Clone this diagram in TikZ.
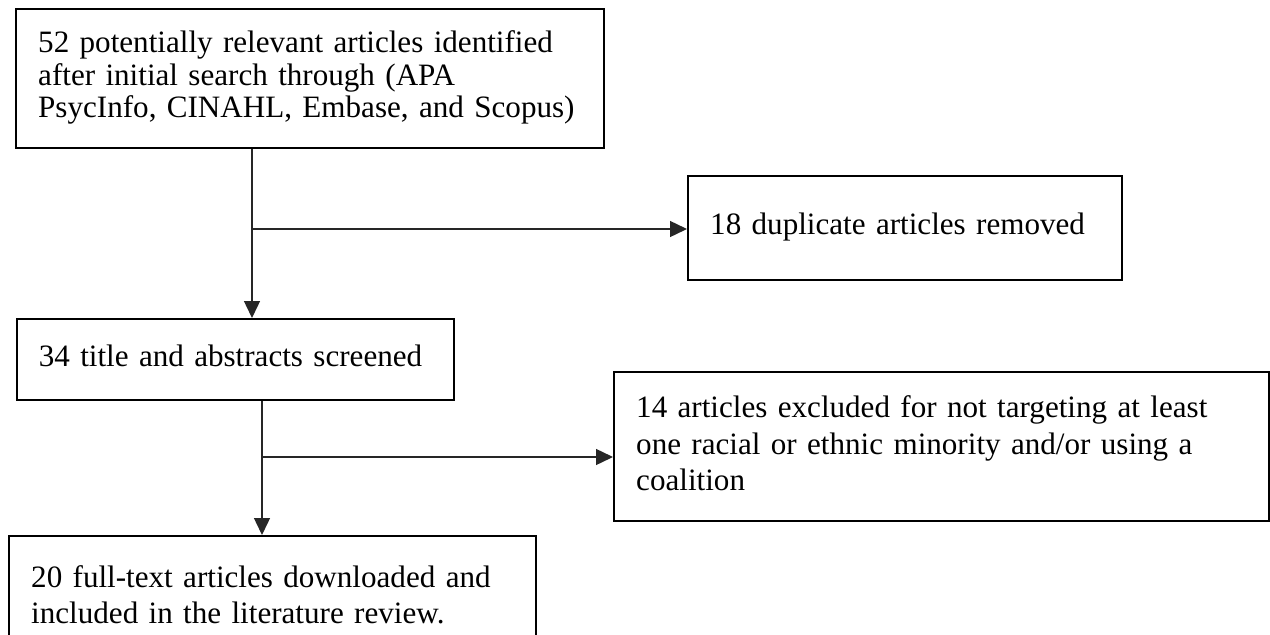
\documentclass[tikz,border=0pt]{standalone}
\usepackage{fontspec}
\setmainfont{Liberation Serif}
\usetikzlibrary{arrows.meta}
\newcommand{\boxlines}[1]{\begin{tabular}{@{}l@{}}#1\end{tabular}}
\begin{document}
\begin{tikzpicture}[x=1pt,y=-1pt,
  box/.style={draw=black, line width=2.4pt, anchor=north west, inner xsep=22pt, inner ysep=0pt, align=left},
  txtA/.style={font=\fontsize{31.1}{32.5}\selectfont},
  txtB/.style={font=\fontsize{31.1}{36.5}\selectfont},
  conn/.style={line width=1.4pt, draw=black!85},
  arr/.style={conn,-{Triangle[length=17pt,width=16pt]}}]
\useasboundingbox (0,0) rectangle (1270,635);
\clip (0,0) rectangle (1270,635);
\node[box, txtA, minimum width=588pt, minimum height=139pt, text width=544pt] (b1) at (15,8)
  {\boxlines{52 potentially relevant articles identified\\after initial search through (APA\\PsycInfo, CINAHL, Embase, and Scopus)}};
\node[box, txtA, minimum width=434pt, minimum height=104pt, text width=390pt] (b2) at (687,175)
  {\boxlines{18 duplicate articles removed}};
\node[box, txtA, minimum width=437pt, minimum height=81pt, text width=393pt] (b3) at (15.6,318)
  {\boxlines{34 title and abstracts screened}};
\node[box, txtB, minimum width=655pt, minimum height=149pt, text width=611pt] (b4) at (613,371)
  {\boxlines{14 articles excluded for not targeting at least\\one racial or ethnic minority and/or using a\\coalition}};
\node[box, txtB, minimum width=527pt, minimum height=124pt, text width=483pt] (b5) at (8,535)
  {\boxlines{20 full-text articles downloaded and\\included in the literature review.}};
\coordinate (j1) at (252,229);
\coordinate (j2) at (262,457);
\draw[arr] (b1.south -| j1) -- (b3.north -| j1);
\draw[arr] (j1) -- (j1 -| b2.west);
\draw[arr] (b3.south -| j2) -- (b5.north -| j2);
\draw[arr] (j2) -- (j2 -| b4.west);
\end{tikzpicture}
\end{document}
